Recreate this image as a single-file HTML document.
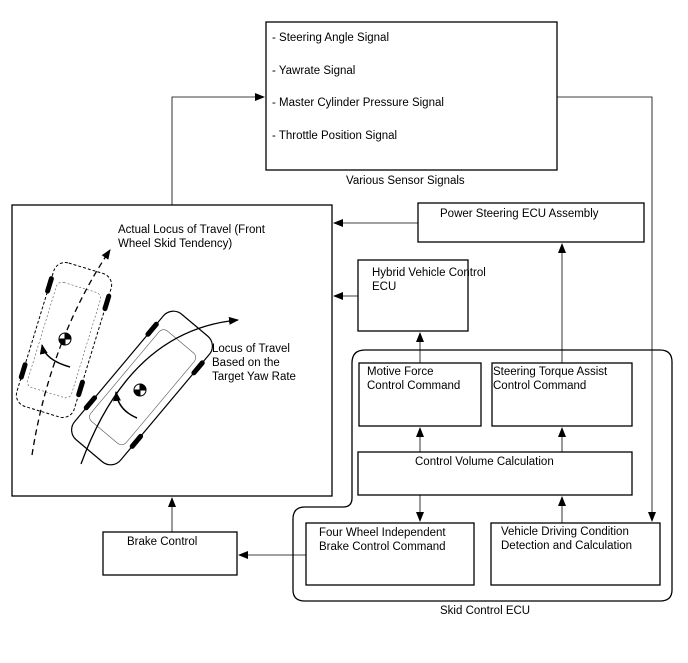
<!DOCTYPE html>
<html><head><style>
body{margin:0;background:#fff;}
svg text{font-family:"Liberation Sans",Arial,sans-serif;font-size:11.5px;fill:#000;}
</style></head><body>
<svg width="688" height="658" viewBox="0 0 688 658" xmlns="http://www.w3.org/2000/svg">
<defs>
<marker id="a" markerWidth="10" markerHeight="8" refX="9" refY="4" orient="auto" markerUnits="userSpaceOnUse">
<path d="M0,0 L10,4 L0,8 Z" fill="#000"/></marker>
</defs>
<g fill="none" stroke="#000" stroke-width="1.3">
<rect x="266" y="22" width="291" height="148"/>
<rect x="12" y="205" width="320" height="291"/>
<rect x="418" y="203" width="226" height="39"/>
<rect x="358" y="260" width="110" height="71"/>
<rect x="359" y="363" width="122" height="63"/>
<rect x="492" y="363" width="140" height="63"/>
<rect x="358" y="452" width="274" height="43"/>
<rect x="306" y="523" width="168" height="62"/>
<rect x="491" y="523" width="169" height="62"/>
<rect x="103" y="532" width="134" height="43"/>
<path d="M365,350 H660 Q672,350 672,362 V590 Q672,601 660,601 H305 Q293,601 293,590 V519 Q293,507 305,507 H343 Q352,507 352,498 V363 Q352,350 365,350 Z"/>
</g>
<g fill="none" stroke="#000" stroke-width="0.8">
<path d="M172,205 V97 H264" marker-end="url(#a)"/>
<path d="M557,97 H652 V521" marker-end="url(#a)"/>
<path d="M418,223 H334" marker-end="url(#a)"/>
<path d="M358,296 H334" marker-end="url(#a)"/>
<path d="M562,363 V244" marker-end="url(#a)"/>
<path d="M420,363 V333" marker-end="url(#a)"/>
<path d="M420,452 V428" marker-end="url(#a)"/>
<path d="M562,452 V428" marker-end="url(#a)"/>
<path d="M420,495 V521" marker-end="url(#a)"/>
<path d="M562,523 V497" marker-end="url(#a)"/>
<path d="M306,555 H239" marker-end="url(#a)"/>
<path d="M172,532 V498" marker-end="url(#a)"/>
</g>
<text x="272" y="41">- Steering Angle Signal</text>
<text x="272" y="74">- Yawrate Signal</text>
<text x="272" y="106">- Master Cylinder Pressure Signal</text>
<text x="272" y="139">- Throttle Position Signal</text>
<text x="346" y="184">Various Sensor Signals</text>
<text x="440" y="217">Power Steering ECU Assembly</text>
<text x="372" y="276">Hybrid Vehicle Control</text>
<text x="372" y="290">ECU</text>
<text x="367" y="375">Motive Force</text>
<text x="367" y="389">Control Command</text>
<text x="493" y="375">Steering Torque Assist</text>
<text x="493" y="389">Control Command</text>
<text x="415" y="465">Control Volume Calculation</text>
<text x="319" y="536">Four Wheel Independent</text>
<text x="319" y="550">Brake Control Command</text>
<text x="501" y="535">Vehicle Driving Condition</text>
<text x="501" y="549">Detection and Calculation</text>
<text x="127" y="545">Brake Control</text>
<text x="440" y="614">Skid Control ECU</text>
<text x="118" y="233">Actual Locus of Travel (Front</text>
<text x="118" y="247">Wheel Skid Tendency)</text>
<text x="212" y="352">Locus of Travel</text>
<text x="212" y="366">Based on the</text>
<text x="212" y="380">Target Yaw Rate</text>
<!-- dashed car -->
<g transform="translate(64,340) rotate(17)">
<rect x="-30" y="-75" width="60" height="150" rx="12" fill="none" stroke="#000" stroke-width="1" stroke-dasharray="3,2"/>
<rect x="-23" y="-55" width="46" height="110" rx="6" fill="none" stroke="#555" stroke-width="0.6" stroke-dasharray="2,2"/>
<g stroke="#000" stroke-width="5" stroke-linecap="round">
<line x1="-30" y1="-55" x2="-30" y2="-42"/><line x1="30" y1="-55" x2="30" y2="-42"/>
<line x1="-30" y1="35" x2="-30" y2="48"/><line x1="30" y1="35" x2="30" y2="48"/></g>
</g>
<path d="M32,455 Q50,340 110,250" fill="none" stroke="#000" stroke-width="1.3" stroke-dasharray="6,4" marker-end="url(#a)"/>
<!-- solid car -->
<g transform="translate(142,388) rotate(40)">
<rect x="-30" y="-82" width="60" height="164" rx="13" fill="#fff" stroke="#000" stroke-width="1.2"/>
<rect x="-23" y="-60" width="46" height="118" rx="6" fill="none" stroke="#555" stroke-width="0.6"/>
<g stroke="#000" stroke-width="5" stroke-linecap="round">
<line x1="-30" y1="-58" x2="-30" y2="-45"/><line x1="30" y1="-58" x2="30" y2="-45"/>
<line x1="-30" y1="38" x2="-30" y2="51"/><line x1="30" y1="38" x2="30" y2="51"/></g>
</g>
<path d="M81,464 Q130,330 238,320" fill="none" stroke="#000" stroke-width="1.3" marker-end="url(#a)"/>
<g stroke="#000" stroke-width="1"><circle cx="65" cy="339" r="6" fill="#fff"/><path d="M65,333 A6,6 0 0 1 71,339 H65 Z M65,345 A6,6 0 0 1 59,339 H65 Z" fill="#000"/></g>
<g stroke="#000" stroke-width="1"><circle cx="140" cy="390" r="6" fill="#fff"/><path d="M140,384 A6,6 0 0 1 146,390 H140 Z M140,396 A6,6 0 0 1 134,390 H140 Z" fill="#000"/></g>
<path d="M70,367 Q45,360 42,345" fill="none" stroke="#000" stroke-width="1.5" marker-end="url(#a)"/>
<path d="M137,418 Q118,410 116,392" fill="none" stroke="#000" stroke-width="1.5" marker-end="url(#a)"/>
</svg>
</body></html>
